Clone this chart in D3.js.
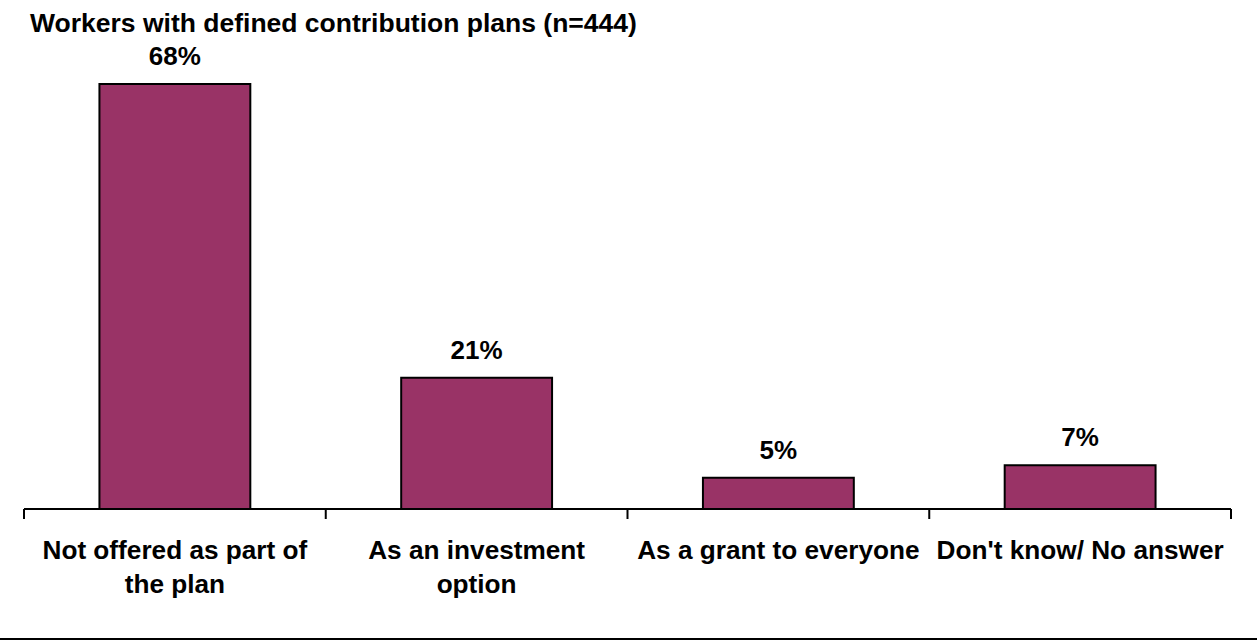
<!DOCTYPE html>
<html>
<head>
    <meta charset="utf-8">
    <style>
        body {
            margin: 0;
            background: white;
            font-family: "Liberation Sans", Arial, Helvetica, sans-serif;
        }

        svg {
            display: block;
        }
    </style>
</head>
<body>
    <svg width="1257" height="641"></svg>

<script src="https://d3js.org/d3.v7.min.js"></script>
<script>
    // data
    let categories = ["Not offered as part of\nthe plan", "As an investment\noption", "As a grant to everyone", "Don't know/ No answer"]
    let values = [68, 21, 5, 7]
    let title = "Workers with defined contribution plans (n=444)"

    let width = 1257
    let height = 641
    let baseline = 509

    let svg = d3.select("svg")

    let x = d3.scaleBand()
        .domain(categories)
        .range([24, 1231])
        .paddingInner(0.5)
        .paddingOuter(0.25)

    let y = d3.scaleLinear()
        .domain([0, 68])
        .range([baseline, 84])

    // title
    svg.append("text")
        .attr("x", 30)
        .attr("y", 32)
        .style("font-size", "26.5px")
        .style("font-weight", "bold")
        .text(title)

    // bars
    svg.selectAll(".bar")
        .data(values)
        .join("rect")
        .attr("class", "bar")
        .attr("x", (d, i) => x(categories[i]))
        .attr("y", d => y(d))
        .attr("width", x.bandwidth())
        .attr("height", d => baseline - y(d))
        .style("fill", "#993366")
        .style("stroke", "black")
        .style("stroke-width", 2)

    // value labels
    svg.selectAll(".val")
        .data(values)
        .join("text")
        .attr("class", "val")
        .attr("x", (d, i) => x(categories[i]) + x.bandwidth() / 2)
        .attr("y", d => y(d) - 19)
        .attr("text-anchor", "middle")
        .style("font-size", "26px")
        .style("font-weight", "bold")
        .text(d => d + "%")

    // axis line with ticks between categories
    let step = x.step()
    let tickX = d3.range(categories.length + 1).map(i => 24 + i * step)

    svg.append("line")
        .attr("x1", 24)
        .attr("x2", 1231)
        .attr("y1", baseline)
        .attr("y2", baseline)
        .style("stroke", "black")
        .style("stroke-width", 2)

    svg.selectAll(".tick")
        .data(tickX)
        .join("line")
        .attr("class", "tick")
        .attr("x1", d => d)
        .attr("x2", d => d)
        .attr("y1", baseline)
        .attr("y2", baseline + 10)
        .style("stroke", "black")
        .style("stroke-width", 2)

    // category labels
    let cats = svg.selectAll(".cat")
        .data(categories)
        .join("text")
        .attr("class", "cat")
        .attr("x", d => x(d) + x.bandwidth() / 2)
        .attr("y", 559)
        .attr("text-anchor", "middle")
        .style("font-size", "26.2px")
        .style("font-weight", "bold")

    cats.selectAll("tspan")
        .data(d => d.split("\n"))
        .join("tspan")
        .attr("x", function () { return d3.select(this.parentNode).attr("x") })
        .attr("dy", (d, i) => i === 0 ? 0 : 34)
        .text(d => d)

    // rule along the bottom
    svg.append("line")
        .attr("x1", 0)
        .attr("x2", width)
        .attr("y1", 639)
        .attr("y2", 639)
        .style("stroke", "black")
        .style("stroke-width", 2)
</script>
</body>
</html>
